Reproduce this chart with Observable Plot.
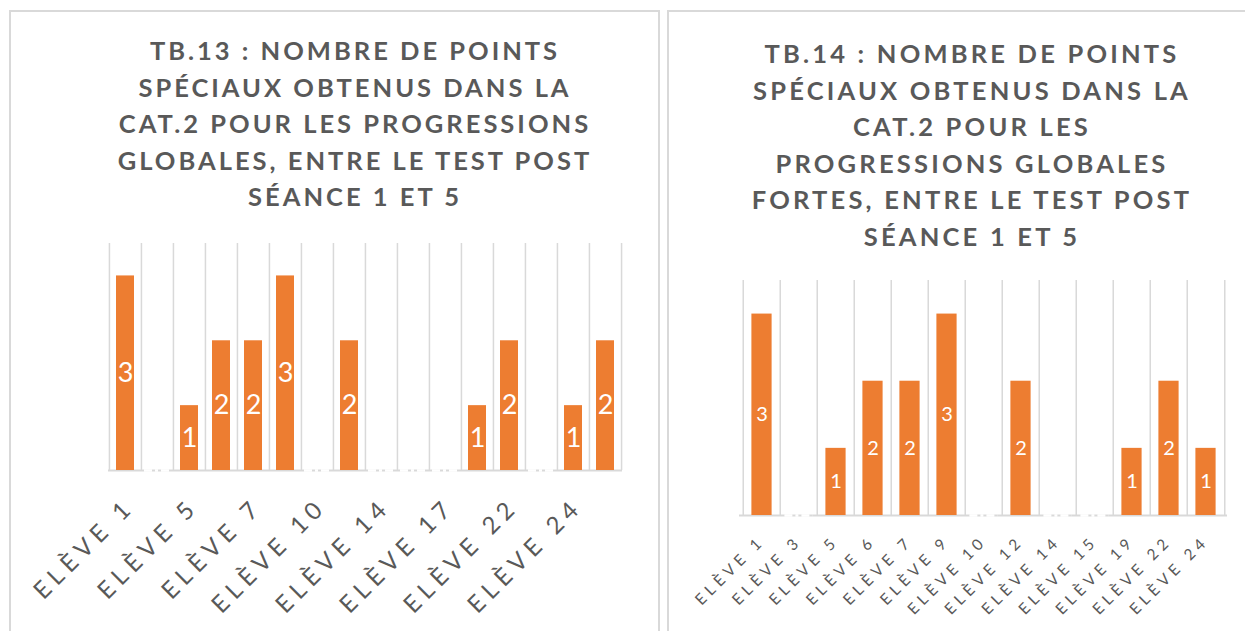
<!DOCTYPE html>
<html><head><meta charset="utf-8">
<script src="https://cdn.jsdelivr.net/npm/d3@7"></script>
<script src="https://cdn.jsdelivr.net/npm/@observablehq/plot@0.6"></script>
<style>
body{margin:0;width:1245px;height:631px;overflow:hidden;background:#fff;position:relative;font-family:Lato,"Open Sans",sans-serif;}
.panel{position:absolute;border:2px solid #d9d9d9;box-sizing:border-box;}
.title{position:absolute;text-align:center;font-weight:700;color:#595959;font-size:25.5px;letter-spacing:3px;line-height:36.5px;white-space:nowrap;}
.chart{position:absolute;}
</style></head><body>
<div class="panel" style="left:9px;top:10px;width:651px;height:640px;"></div>
<div class="panel" style="left:667px;top:10px;width:600px;height:640px;"></div>
<div class="title" style="left:105px;top:32px;width:500px;">TB.13 : NOMBRE DE POINTS<br>SPÉCIAUX OBTENUS DANS LA<br>CAT.2 POUR LES PROGRESSIONS<br>GLOBALES, ENTRE LE TEST POST<br>SÉANCE 1 ET 5</div>
<div class="title" style="left:722px;top:35px;width:500px;letter-spacing:3.2px;">TB.14 : NOMBRE DE POINTS<br>SPÉCIAUX OBTENUS DANS LA<br>CAT.2 POUR LES<br>PROGRESSIONS GLOBALES<br>FORTES, ENTRE LE TEST POST<br>SÉANCE 1 ET 5</div>
<div id="c13" class="chart" style="left:9px;top:230px;"></div>
<div id="c14" class="chart" style="left:667px;top:260px;"></div>
<script>
// TB.13 data
const cats13 = ["ELÈVE 1","ELÈVE 3","ELÈVE 5","ELÈVE 6","ELÈVE 7","ELÈVE 9","ELÈVE 10","ELÈVE 12","ELÈVE 14","ELÈVE 15","ELÈVE 17","ELÈVE 19","ELÈVE 22","ELÈVE 23","ELÈVE 24","ELÈVE 25"];
const vals13 = [3,0,1,2,2,3,0,2,0,0,0,1,2,0,1,2];
const ticks13 = ["ELÈVE 1","ELÈVE 5","ELÈVE 7","ELÈVE 10","ELÈVE 14","ELÈVE 17","ELÈVE 22","ELÈVE 24"];
// TB.14 data
const cats14 = ["ELÈVE 1","ELÈVE 3","ELÈVE 5","ELÈVE 6","ELÈVE 7","ELÈVE 9","ELÈVE 10","ELÈVE 12","ELÈVE 14","ELÈVE 15","ELÈVE 19","ELÈVE 22","ELÈVE 24"];
const vals14 = [3,0,1,2,2,3,0,2,0,0,1,2,1];
const ticks14 = cats14;
const yMax = 3.5;

function chart(o) {
  const data = o.cats.map((c, i) => ({cat: c, v: o.vals[i]}));
  const bw = (o.width - o.ml - o.mr) / o.cats.length;
  const svg = Plot.plot({
    width: o.width, height: o.height,
    marginLeft: o.ml, marginRight: o.mr, marginTop: o.mt, marginBottom: o.mb,
    style: {fontFamily: "Lato, 'Open Sans', sans-serif", background: "transparent", overflow: "visible"},
    x: {domain: o.cats, padding: 0, axis: null},
    y: {domain: [0, yMax], axis: null},
    marks: [
      Plot.ruleX(o.cats, {x: d => d, y1: 0, y2: yMax, stroke: "#d9d9d9", strokeWidth: 1.5, dx: -bw / 2}),
      Plot.ruleX([o.cats[o.cats.length - 1]], {x: d => d, y1: 0, y2: yMax, stroke: "#d9d9d9", strokeWidth: 1.5, dx: bw / 2}),
      Plot.ruleY([0], {stroke: "#d9d9d9", strokeWidth: 2}),
      Plot.tickY(data.filter(d => d.v === 0), {x: "cat", y: 0, stroke: "white", strokeWidth: 2.5, strokeDasharray: "8 3 3 3", inset: o.inset - 4}),
      Plot.barY(data, {x: "cat", y: "v", fill: "#ED7D31", insetLeft: o.inset, insetRight: o.inset}),
      Plot.text(data.filter(d => d.v > 0), {x: "cat", y: d => d.v / 2, text: d => String(d.v), fill: "white", fontSize: o.labelSize}),
      Plot.text(o.ticks, {x: d => d, y: 0, text: d => d, rotate: -45, textAnchor: "end", lineAnchor: "middle",
        dx: o.tdx, dy: o.tdy, fontSize: o.tickFont, fill: "#595959"})
    ]
  });
  svg.querySelectorAll("text").forEach(t => {
    if (t.textContent.startsWith("ELÈVE")) {
      t.setAttribute("letter-spacing", o.ls);
      t.style.letterSpacing = o.ls + "px";
    }
  });
  return svg;
}

document.getElementById("c13").append(chart({
  cats: cats13, vals: vals13, ticks: ticks13,
  width: 650, height: 401, ml: 99, mr: 37, mt: 13, mb: 161,
  inset: 7, labelSize: 27, tickFont: 24, ls: 5.8, tdx: 5, tdy: 32
}));
document.getElementById("c14").append(chart({
  cats: cats14, vals: vals14, ticks: ticks14,
  width: 578, height: 371, ml: 72, mr: 18, mt: 20, mb: 116,
  inset: 8.4, labelSize: 20, tickFont: 15.5, ls: 4.6, tdx: 0, tdy: 23
}));
</script>
</body></html>
